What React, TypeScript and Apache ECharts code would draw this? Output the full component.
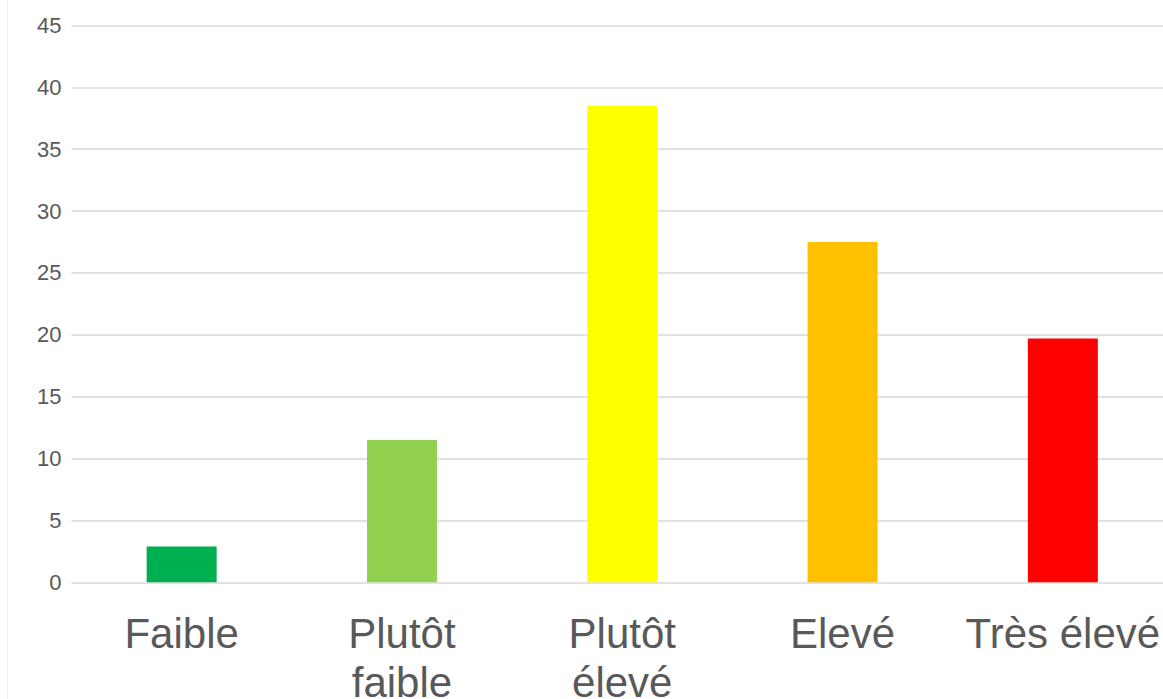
import React, { useEffect, useRef } from "react";
import * as echarts from "echarts";

const categories = ["Faible", "Plutôt\nfaible", "Plutôt\nélevé", "Elevé", "Très élevé"];
const values = [2.9, 11.5, 38.5, 27.5, 19.7];
const barColors = ["#00B050", "#92D050", "#FFFF00", "#FFC000", "#FF0000"];
const yMin = 0;
const yMax = 45;
const yStep = 5;

export default function App() {
  const ref = useRef<HTMLDivElement>(null);
  useEffect(() => {
    if (!ref.current) return;
    const chart = echarts.init(ref.current, undefined, { renderer: "svg" });
    chart.setOption({
      animation: false,
      backgroundColor: "#ffffff",
      grid: {
        left: 71.5,
        right: 7,
        top: 25.5,
        bottom: 116.7,
        containLabel: false,
        outerBoundsMode: "none",
      },
      graphic: [
        {
          type: "line",
          shape: { x1: 7.5, y1: 0, x2: 7.5, y2: 699 },
          style: { stroke: "#eeeeee", lineWidth: 1 },
          silent: true,
        },
      ],
      xAxis: {
        type: "category",
        data: categories,
        axisLine: { show: false },
        axisTick: { show: false },
        axisLabel: {
          color: "#595959",
          fontFamily: "Liberation Sans, Arial, sans-serif",
          fontSize: 42,
          lineHeight: 49,
          margin: 27,
          verticalAlign: "top",
          interval: 0,
        },
      },
      yAxis: {
        type: "value",
        min: yMin,
        max: yMax,
        interval: yStep,
        axisLine: { show: false },
        axisTick: { show: false },
        splitLine: { lineStyle: { color: "#d9d9d9", width: 1.5 } },
        axisLabel: {
          color: "#595959",
          fontFamily: "Liberation Sans, Arial, sans-serif",
          fontSize: 22,
          margin: 10,
        },
      },
      series: [
        {
          type: "bar",
          barWidth: 70,
          data: values.map((v, i) => ({ value: v, itemStyle: { color: barColors[i] } })),
        },
      ],
    });
    return () => chart.dispose();
  }, []);
  return (
    <div
      ref={ref}
      style={{ position: "fixed", left: 0, top: 0, width: 1180, height: 699 }}
    />
  );
}
